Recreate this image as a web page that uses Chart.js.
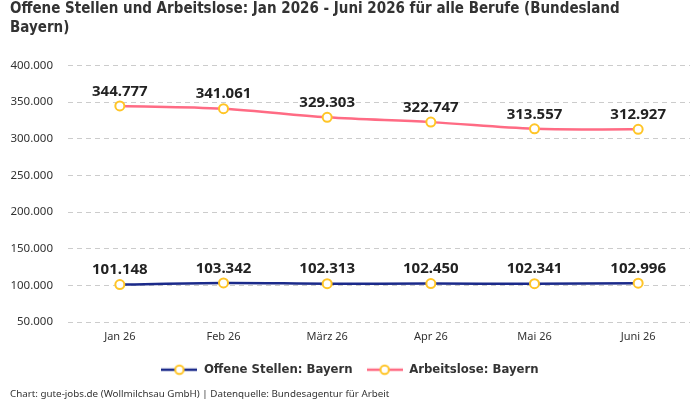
<!DOCTYPE html>
<html>
<head>
<meta charset="utf-8">
<script src="https://cdn.jsdelivr.net/npm/chart.js@4"></script>
<style>
  html, body { margin: 0; padding: 0; background: #fff; }
  #wrap { width: 700px; height: 400px; }
</style>
</head>
<body>
<div id="wrap"><canvas id="jobsChart"></canvas></div>
<script>
const months = ['Jan 26', 'Feb 26', 'März 26', 'Apr 26', 'Mai 26', 'Juni 26'];
const offeneStellen = [101148, 103342, 102313, 102450, 102341, 102996];
const arbeitslose = [344777, 341061, 329303, 322747, 313557, 312927];
const yTicks = [50000, 100000, 150000, 200000, 250000, 300000, 350000, 400000];

const condensed = '"DejaVu Sans Condensed", sans-serif';
const regular = '"Noto Sans", sans-serif';

// legend marker: line with circle in the middle
function legendMarker(color) {
    const c = document.createElement('canvas');
    c.width = 36; c.height = 12;
    const g = c.getContext('2d');
    g.strokeStyle = color;
    g.lineWidth = 2.5;
    g.beginPath(); g.moveTo(0, 6); g.lineTo(36, 6); g.stroke();
    g.fillStyle = '#fff';
    g.strokeStyle = '#ffc527';
    g.lineWidth = 2;
    g.beginPath(); g.arc(18, 6, 4.2, 0, Math.PI * 2); g.fill(); g.stroke();
    return c;
}

// values above each point
const valueLabels = {
    id: 'valueLabels',
    afterDatasetsDraw(chart) {
        const ctx = chart.ctx;
        ctx.save();
        ctx.font = 'bold 15px ' + regular;
        ctx.fillStyle = '#222';
        ctx.textAlign = 'center';
        ctx.textBaseline = 'bottom';
        chart.data.datasets.forEach((ds, i) => {
            chart.getDatasetMeta(i).data.forEach((pt, j) => {
                ctx.fillText(ds.data[j].toLocaleString('de-DE'), pt.x, pt.y - 7);
            });
        });
        ctx.restore();
    }
};

const lineColors = ['#1b2a8a', '#ff6b84'];

new Chart(document.getElementById('jobsChart'), {
    type: 'line',
    data: {
        labels: months,
        datasets: [{
            label: 'Offene Stellen: Bayern',
            data: offeneStellen,
            borderColor: lineColors[0],
            backgroundColor: lineColors[0],
            borderWidth: 2.5,
            tension: 0.35,
            pointRadius: 4.5,
            pointBorderWidth: 2,
            pointBackgroundColor: '#fff',
            pointBorderColor: '#ffc527'
        }, {
            label: 'Arbeitslose: Bayern',
            data: arbeitslose,
            borderColor: lineColors[1],
            backgroundColor: lineColors[1],
            borderWidth: 2.5,
            tension: 0.35,
            pointRadius: 4.5,
            pointBorderWidth: 2,
            pointBackgroundColor: '#fff',
            pointBorderColor: '#ffc527'
        }]
    },
    options: {
        responsive: true,
        maintainAspectRatio: false,
        animation: false,
        locale: 'de-DE',
        layout: { padding: { left: 10, right: 10, top: 0, bottom: 0 } },
        scales: {
            x: {
                offset: true,
                afterFit: axis => { axis.height += 6; },
                grid: { display: false },
                border: { display: false },
                ticks: { color: '#333', font: { family: regular, size: 11 }, padding: 0 }
            },
            y: {
                min: 50000,
                max: 400000,
                afterBuildTicks: axis => { axis.ticks = yTicks.map(v => ({ value: v })); },
                afterFit: axis => { axis.width = 58; },
                grid: { color: '#cccccc', lineWidth: 1, drawTicks: false },
                border: { display: false, dash: [5, 4] },
                ticks: { color: '#333', font: { family: regular, size: 11.5 }, padding: 15 }
            }
        },
        plugins: {
            title: {
                display: true,
                text: ['Offene Stellen und Arbeitslose: Jan 2026 - Juni 2026 für alle Berufe (Bundesland', 'Bayern)'],
                align: 'start',
                color: '#333',
                font: { family: condensed, size: 15, weight: 'bold', lineHeight: 1.25 },
                padding: { top: 0, bottom: 28 }
            },
            subtitle: {
                display: true,
                position: 'bottom',
                align: 'start',
                text: 'Chart: gute-jobs.de (Wollmilchsau GmbH) | Datenquelle: Bundesagentur für Arbeit',
                color: '#333',
                font: { family: regular, size: 9.8 },
                padding: { top: 2, bottom: 0 }
            },
            legend: {
                position: 'bottom',
                labels: {
                    color: '#333',
                    font: { family: condensed, size: 13, weight: 'bold' },
                    usePointStyle: true,
                    pointStyleWidth: 36,
                    padding: 14,
                    generateLabels: chart => chart.data.datasets.map((ds, i) => ({
                        text: ds.label,
                        pointStyle: legendMarker(lineColors[i]),
                        fontColor: '#333',
                        datasetIndex: i,
                        hidden: false,
                        lineWidth: 0
                    }))
                }
            },
            tooltip: { enabled: false }
        }
    },
    plugins: [valueLabels]
});
</script>
</body>
</html>
